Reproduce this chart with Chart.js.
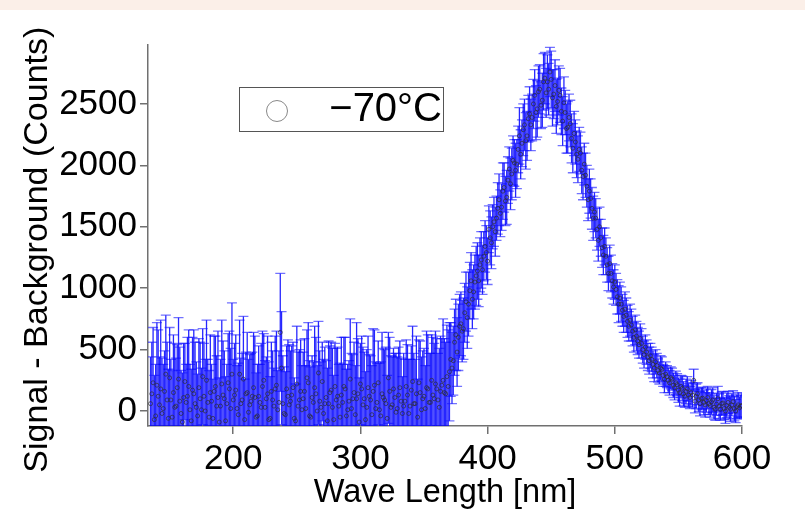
<!DOCTYPE html>
<html>
<head>
<meta charset="utf-8">
<script src="https://cdn.jsdelivr.net/npm/chart.js@4.4.0/dist/chart.umd.min.js"></script>
<style>
  html, body { margin: 0; padding: 0; background: #ffffff; }
  #wrap { width: 805px; height: 509px; }
</style>
</head>
<body>
<div id="wrap"><canvas id="spectrum" width="805" height="509"></canvas></div>
<script>
'use strict';

// detector channels, odd wavelengths [nm]
const wavelengthA = [
  135, 137, 139, 141, 143, 145, 147, 149, 151, 153, 155, 157, 159, 161, 163, 165, 167, 169, 171, 173,
  175, 177, 179, 181, 183, 185, 187, 189, 191, 193, 195, 197, 199, 201, 203, 205, 207, 209, 211, 213,
  215, 217, 219, 221, 223, 225, 227, 229, 231, 233, 235, 237, 239, 241, 243, 245, 247, 249, 251, 253,
  255, 257, 259, 261, 263, 265, 267, 269, 271, 273, 275, 277, 279, 281, 283, 285, 287, 289, 291, 293,
  295, 297, 299, 301, 303, 305, 307, 309, 311, 313, 315, 317, 319, 321, 323, 325, 327, 329, 331, 333,
  335, 337, 339, 341, 343, 345, 347, 349, 351, 353, 355, 357, 359, 361, 363, 365, 367, 369,
  371, 373, 375, 377, 379, 381, 383, 385, 387, 389, 391,
  393, 395, 397, 399, 401, 403, 405, 407, 409, 411, 413, 415, 417, 419, 421, 423, 425, 427, 429, 431,
  433, 435, 437, 439, 441, 443, 445,
  447, 449, 451, 453, 455, 457, 459, 461, 463, 465, 467, 469, 471, 473, 475,
  477, 479, 481, 483, 485, 487, 489, 491, 493, 495, 497, 499, 501, 503, 505, 507, 509, 511, 513, 515,
  517, 519, 521, 523, 525, 527, 529, 531, 533, 535, 537, 539, 541, 543, 545, 547, 549, 551, 553, 555,
  557, 559, 561, 563, 565, 567, 569, 571, 573, 575, 577, 579, 581, 583, 585, 587, 589, 591, 593, 595,
  597, 599
];
const signalA = [
  60, 230, -40, 120, 180, 20, 300, -60, 90, 150, 40, 260, -20, 110, 70, 200, -80, 140, 30, 190,
  10, 120, 250, -50, 80, 160, 40, -90, 220, 100, 60, 180, 300, 130, 20, 300, 90, -70, 150, 50,
  120, 110, -40, 70, 200, 30, 140, -60, 90, 180, 10, 640, 60, -30, 120, 80, 190, -80, 40, 160,
  100, 20, 230, -50, 70, 140, 310, 30, -20, 110, 60, 170, -70, 90, 40, 130, 200, -40, 80, 20,
  150, 100, -90, 180, 100, 30, 120, -30, 210, 70, 10, 140, 90, -60, 160, 50, 110, 20, 190, -20,
  80, 130, 40, 240, 60, -50, 150, 100, 20, 180, 70, 130, 220, 90, 160, 250, 140, 200,
  420, 410, 620, 600, 710, 670, 890, 870, 1060, 970, 1100,
  1060, 1230, 1260, 1290, 1480, 1370, 1540, 1570, 1720, 1660, 1820, 1740, 1970, 1930, 2020, 2010, 2240, 2180, 2330, 2240,
  2420, 2390, 2570, 2460, 2620, 2530, 2710,
  2680, 2760, 2550, 2650, 2520, 2570, 2360, 2430, 2310, 2340, 2140, 2190, 2050, 2100, 1910,
  1920, 1720, 1730, 1570, 1570, 1390, 1410, 1270, 1260, 1120, 1120, 1010, 990, 870, 870, 770, 780, 690, 700, 600,
  610, 540, 550, 460, 480, 410, 420, 350, 370, 310, 340, 260, 280, 230, 260, 190, 215, 150, 185, 120,
  180, 110, 130, 80, 140, 60, 105, 50, 110, 45, 90, 15, 100, 15, 65, 0, 70, 15, 75, 0,
  50, 40
];
const sigmaA = [
  380, 450, 420, 540, 560, 360, 480, 400, 330, 470, 390, 500, 350, 440, 310, 460, 420, 520, 370, 400,
  340, 430, 490, 380, 300, 450, 410, 360, 520, 390, 320, 470, 580, 420, 350, 440, 380, 330, 490, 410,
  360, 500, 420, 310, 450, 380, 470, 340, 400, 430, 320, 480, 390, 350, 460, 410, 370, 300, 440, 420,
  380, 350, 490, 410, 330, 460, 420, 370, 440, 300, 510, 390, 360, 420, 340, 470, 400, 380, 330, 450,
  410, 620, 360, 430, 380, 470, 340, 400, 450, 320, 380, 500, 410, 350, 440, 390, 360, 420, 380, 300,
  340, 410, 380, 450, 360, 310, 420, 390, 350, 440, 400, 470, 430, 380, 450, 500, 420, 460,
  300, 280, 290, 270, 260, 250, 240, 260, 230, 220, 240,
  210, 230, 200, 220, 190, 210, 200, 180, 210, 190, 200, 220, 180, 210, 190, 200, 230, 190, 210, 200,
  220, 190, 210, 230, 200, 220, 210,
  220, 200, 230, 210, 190, 220, 200, 180, 210, 190, 200, 180, 190, 170, 190,
  180, 170, 160, 180, 160, 170, 150, 160, 150, 140, 150, 140, 130, 150, 140, 130, 140, 120, 130, 120,
  120, 110, 120, 110, 100, 110, 100, 110, 100, 90, 100, 110, 90, 100, 90, 100, 90, 110, 100, 90,
  100, 90, 100, 95, 90, 100, 90, 100, 90, 95, 100, 90, 100, 90, 95, 100, 90, 100, 90, 95,
  100, 90
];

// detector channels, even wavelengths [nm]
const wavelengthB = [
  136, 138, 140, 142, 144, 146, 148, 150, 152, 154, 156, 158, 160, 162, 164, 166, 168, 170, 172, 174,
  176, 178, 180, 182, 184, 186, 188, 190, 192, 194, 196, 198, 200, 202, 204, 206, 208, 210, 212, 214,
  216, 218, 220, 222, 224, 226, 228, 230, 232, 234, 236, 238, 240, 242, 244, 246, 248, 250, 252, 254,
  256, 258, 260, 262, 264, 266, 268, 270, 272, 274, 276, 278, 280, 282, 284, 286, 288, 290, 292, 294,
  296, 298, 300, 302, 304, 306, 308, 310, 312, 314, 316, 318, 320, 322, 324, 326, 328, 330, 332, 334,
  336, 338, 340, 342, 344, 346, 348, 350, 352, 354, 356, 358, 360, 362, 364, 366, 368, 370,
  372, 374, 376, 378, 380, 382, 384, 386, 388, 390, 392,
  394, 396, 398, 400, 402, 404, 406, 408, 410, 412, 414, 416, 418, 420, 422, 424, 426, 428, 430, 432,
  434, 436, 438, 440, 442, 444, 446,
  448, 450, 452, 454, 456, 458, 460, 462, 464, 466, 468, 470, 472, 474, 476,
  478, 480, 482, 484, 486, 488, 490, 492, 494, 496, 498, 500, 502, 504, 506, 508, 510, 512, 514, 516,
  518, 520, 522, 524, 526, 528, 530, 532, 534, 536, 538, 540, 542, 544, 546, 548, 550, 552, 554, 556,
  558, 560, 562, 564, 566, 568, 570, 572, 574, 576, 578, 580, 582, 584, 586, 588, 590, 592, 594, 596,
  598, 600
];
const signalB = [
  140, -70, 210, 50, -20, 160, 90, 270, -50, 30, 190, 80, -90, 240, 120, 10, 170, 60, -40, 100,
  280, 0, 70, 150, -60, 200, 110, 40, 130, -80, 230, 20, 90, 170, -30, 60, 260, 140, -10, 80,
  190, -50, 120, 30, 250, 100, -70, 160, 40, 210, 70, 350, -20, 180, 50, 130, -60, 220, 90, 10,
  160, 270, -40, 110, 190, 0, 80, 240, 60, -80, 150, 30, 200, 120, -50, 70, 180, 10, 260, 100,
  -30, 140, 220, 50, -70, 190, 90, 160, 20, 230, -40, 110, 60, 270, 30, 180, -10, 130, 80, 40,
  200, -20, 170, 60, 140, 230, 10, 120, 190, 70, 250, 100, 180, 30, 210, 150, 280, 320,
  350, 560, 480, 690, 650, 800, 760, 980, 910, 1050, 1140,
  1190, 1150, 1340, 1220, 1410, 1500, 1460, 1650, 1610, 1790, 1710, 1880, 1850, 2040, 1960, 2130, 2090, 2290, 2200, 2380,
  2330, 2500, 2430, 2600, 2490, 2680, 2590,
  2620, 2700, 2580, 2480, 2610, 2440, 2510, 2300, 2390, 2220, 2260, 2090, 2130, 1960, 2010,
  1830, 1790, 1650, 1620, 1480, 1500, 1330, 1340, 1190, 1200, 1060, 1050, 930, 920, 820, 830, 730, 740, 650, 660,
  570, 590, 500, 520, 440, 450, 380, 400, 330, 350, 290, 300, 250, 270, 210, 230, 170, 200, 140, 160,
  130, 150, 250, 120, 90, 100, 70, 85, 60, 75, 30, 55, 40, 60, 20, 45, 30, 50, 20, 35,
  25, 45
];
const sigmaB = [
  420, 360, 510, 390, 450, 330, 470, 410, 380, 520, 350, 440, 400, 310, 480, 370, 430, 500, 340, 460,
  390, 420, 350, 470, 320, 410, 540, 380, 440, 360, 400, 490, 330, 450, 420, 370, 510, 340, 430, 390,
  450, 360, 410, 520, 380, 340, 470, 400, 310, 440, 420, 460, 380, 350, 490, 400, 330, 470, 410, 360,
  430, 390, 450, 340, 500, 370, 410, 320, 460, 430, 380, 480, 350, 400, 440, 310, 420, 370, 490, 360,
  400, 450, 330, 470, 390, 420, 360, 510, 380, 340, 440, 400, 460, 370, 420, 330, 480, 390, 350, 430,
  380, 440, 360, 410, 470, 350, 430, 390, 460, 400, 370, 450, 410, 480, 380, 440, 420, 400,
  290, 270, 280, 260, 250, 240, 250, 230, 240, 220, 230,
  220, 200, 210, 190, 220, 180, 200, 210, 190, 230, 200, 190, 210, 200, 220, 190, 200, 210, 230, 190,
  210, 200, 220, 210, 190, 230, 200,
  210, 230, 200, 220, 200, 190, 210, 200, 190, 200, 180, 190, 180, 190, 170,
  170, 180, 170, 160, 170, 160, 160, 150, 140, 150, 140, 140, 140, 130, 130, 140, 130, 130, 120, 120,
  110, 120, 110, 100, 110, 100, 110, 100, 95, 100, 90, 100, 100, 90, 100, 95, 100, 90, 100, 100,
  95, 100, 90, 100, 95, 90, 100, 95, 90, 100, 95, 90, 100, 95, 90, 100, 95, 90, 100, 95,
  90, 100
];

const xTicks = [200, 300, 400, 500, 600];
const yTicks = [0, 500, 1000, 1500, 2000, 2500];
const seriesLabel = '\u221270\u00b0C';

const wavelength = wavelengthA.concat(wavelengthB);
const signal = signalA.concat(signalB);
const sigma = sigmaA.concat(sigmaB);

const FONT = '"Liberation Sans", Arial, Helvetica, sans-serif';
const AXIS_GREY = '#707070';

// top beige strip
const pageStrip = {
  id: 'pageStrip',
  beforeDraw(chart) {
    const ctx = chart.ctx;
    ctx.save();
    ctx.fillStyle = '#fbefe8';
    ctx.fillRect(0, 0, chart.width, 10);
    ctx.restore();
  }
};

// vertical error bars with caps
const errorBars = {
  id: 'errorBars',
  beforeDatasetsDraw(chart) {
    const { ctx, chartArea: a, scales: { x, y } } = chart;
    ctx.save();
    ctx.beginPath();
    ctx.rect(a.left, a.top, a.right - a.left, a.bottom - a.top);
    ctx.clip();
    ctx.lineWidth = 1.3;
    wavelength.forEach((w, i) => {
      const px = x.getPixelForValue(w);
      const top = y.getPixelForValue(signal[i] + sigma[i]);
      const bot = y.getPixelForValue(signal[i] - sigma[i]);
      ctx.strokeStyle = 'rgba(0, 0, 255, 0.85)';
      ctx.beginPath();
      ctx.moveTo(px, top);
      ctx.lineTo(px, bot);
      ctx.stroke();
      ctx.strokeStyle = 'rgba(20, 20, 255, 0.6)';
      ctx.beginPath();
      ctx.moveTo(px - 5, top);
      ctx.lineTo(px + 5, top);
      ctx.moveTo(px - 5, bot);
      ctx.lineTo(px + 5, bot);
      ctx.stroke();
    });
    ctx.restore();
  }
};

// boxed legend inside the plot
const boxLegend = {
  id: 'boxLegend',
  afterDraw(chart) {
    const ctx = chart.ctx;
    ctx.save();
    ctx.strokeStyle = '#555';
    ctx.lineWidth = 1;
    ctx.strokeRect(239.5, 87.5, 204, 44);
    ctx.strokeStyle = '#888';
    ctx.beginPath();
    ctx.arc(277, 111, 10.5, 0, Math.PI * 2);
    ctx.stroke();
    ctx.fillStyle = '#000';
    ctx.font = '40px ' + FONT;
    ctx.textAlign = 'right';
    ctx.textBaseline = 'alphabetic';
    ctx.fillText(seriesLabel, 442, 121);
    ctx.restore();
  }
};

new Chart(document.getElementById('spectrum'), {
  type: 'scatter',
  data: {
    datasets: [{
      label: seriesLabel,
      data: wavelength.map((w, i) => ({ x: w, y: signal[i] })),
      showLine: false,
      pointRadius: 2,
      pointHoverRadius: 2,
      borderWidth: 1,
      borderColor: 'rgba(45, 45, 45, 0.7)',
      backgroundColor: 'rgba(0, 0, 0, 0)'
    }]
  },
  options: {
    responsive: false,
    animation: false,
    layout: { padding: { top: 45, right: 63, left: 0, bottom: 0 } },
    plugins: {
      legend: { display: false },
      tooltip: { enabled: false }
    },
    scales: {
      x: {
        type: 'linear',
        min: 133,
        max: 600,
        afterBuildTicks: scale => { scale.ticks = xTicks.map(v => ({ value: v })); },
        afterFit: scale => { scale.height = 83; },
        border: { display: true, color: AXIS_GREY, width: 1.5 },
        grid: { drawOnChartArea: false, color: AXIS_GREY, lineWidth: 1.5, tickLength: 8 },
        ticks: {
          color: '#000',
          padding: 4,
          maxRotation: 0,
          font: { family: FONT, size: 35 },
          callback: v => String(v)
        },
        title: {
          display: true,
          text: 'Wave Length [nm]',
          color: '#000',
          font: { family: FONT, size: 32.5, lineHeight: 1 },
          padding: { top: 0, bottom: 0 }
        }
      },
      y: {
        type: 'linear',
        min: -122,
        max: 2980,
        afterBuildTicks: scale => { scale.ticks = yTicks.map(v => ({ value: v })); },
        afterFit: scale => { scale.width = 148; },
        border: { display: true, color: AXIS_GREY, width: 1.5 },
        grid: { drawOnChartArea: false, color: AXIS_GREY, lineWidth: 1.5, tickLength: 8 },
        ticks: {
          color: '#000',
          padding: 3,
          font: { family: FONT, size: 35 },
          callback: v => String(v)
        },
        title: {
          display: true,
          // trailing spaces nudge the centred title down to where the original sits
          text: 'Signal - Background (Counts)   ',
          color: '#000',
          font: { family: FONT, size: 34, lineHeight: 1.2 },
          padding: { top: 17, bottom: 0 }
        }
      }
    }
  },
  plugins: [pageStrip, errorBars, boxLegend]
});
</script>
</body>
</html>
